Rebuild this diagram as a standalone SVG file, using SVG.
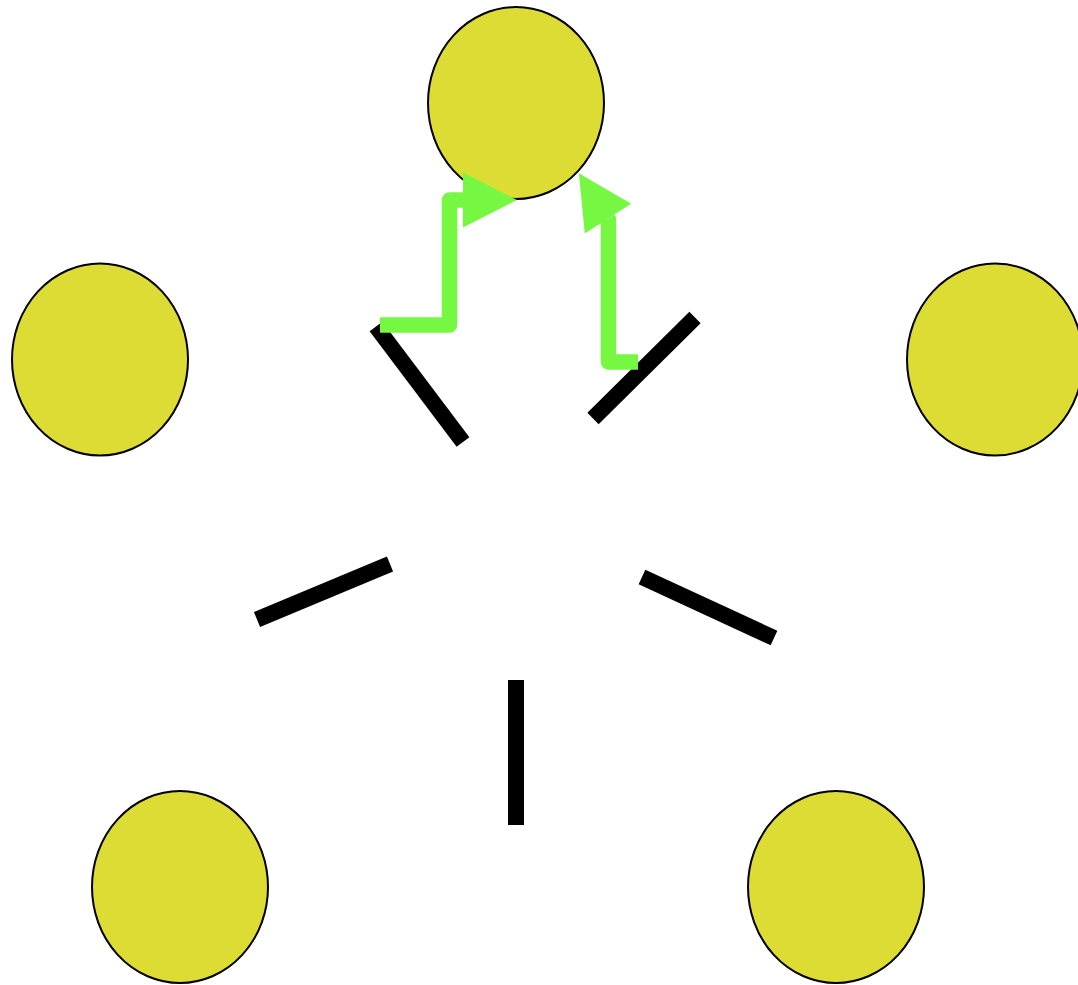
<svg xmlns="http://www.w3.org/2000/svg" width="1078" height="985" viewBox="0 0 1078 985">
  <style>
    .node { fill: #dddc34; stroke: #000; stroke-width: 2; }
    .bar { stroke: #000; stroke-width: 16; stroke-linecap: butt; fill: none; }
    .flow { stroke: #76f842; stroke-width: 15.5; fill: none; stroke-linejoin: round; stroke-linecap: butt; marker-end: url(#ah); }
  </style>
  <defs>
    <marker id="ah" markerUnits="userSpaceOnUse" markerWidth="56" markerHeight="56" refX="0" refY="27.5" orient="auto" viewBox="0 0 56 56" overflow="visible">
      <path d="M0,0 L54,27.5 L0,55 Z" fill="#76f842"/>
    </marker>
  </defs>
  <rect width="1078" height="985" fill="#ffffff"/>
  <g id="node-top"><ellipse class="node" cx="516" cy="103" rx="88" ry="96"/></g>
  <g id="node-left"><ellipse class="node" cx="100" cy="359.5" rx="88" ry="96"/></g>
  <g id="node-right"><ellipse class="node" cx="995" cy="359.5" rx="88" ry="96"/></g>
  <g id="node-bottom-left"><ellipse class="node" cx="180" cy="887" rx="88" ry="96"/></g>
  <g id="node-bottom-right"><ellipse class="node" cx="836" cy="887" rx="88" ry="96"/></g>
  <g id="connectors">
    <line class="bar" x1="376" y1="326.5" x2="463" y2="442"/>
    <line class="bar" x1="695" y1="317.5" x2="593" y2="418.5"/>
    <line class="bar" x1="257" y1="619.5" x2="390" y2="564"/>
    <line class="bar" x1="642" y1="577" x2="774" y2="638"/>
    <line class="bar" x1="516" y1="680" x2="516" y2="825"/>
    <path class="flow" d="M380,325 H449.5 V200 H463"/>
    <path class="flow" d="M638,362 H608.5 V219.5 l-0.55,-0.86"/>
  </g>
</svg>
